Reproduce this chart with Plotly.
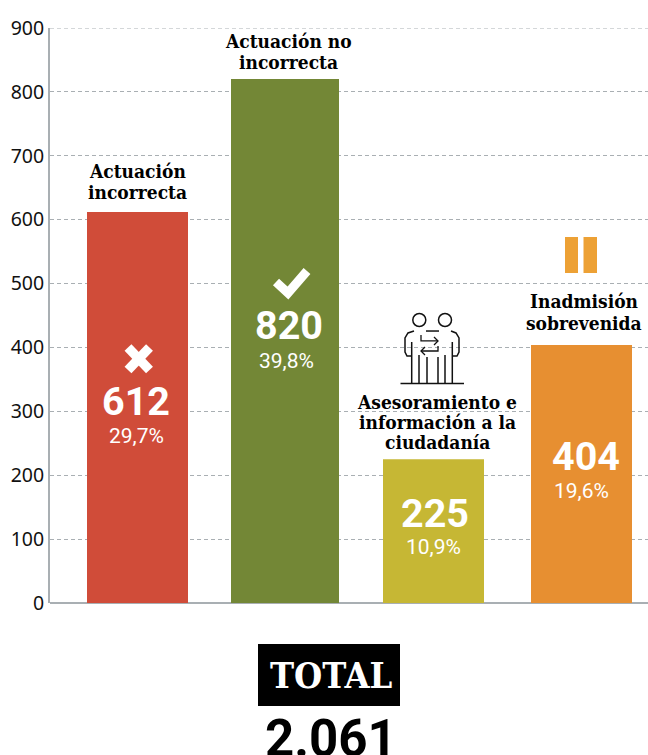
import plotly.graph_objects as go

# Data
categories = ["Actuación incorrecta", "Actuación no incorrecta", "Asesoramiento e información a la ciudadanía", "Inadmisión sobrevenida"]
values = [612, 820, 225, 404]
percents = ["29,7%", "39,8%", "10,9%", "19,6%"]
value_labels = ["612", "820", "225", "404"]
title_lines = [["Actuación", "incorrecta"], ["Actuación no", "incorrecta"],
               ["Asesoramiento e", "información a la", "ciudadanía"], ["Inadmisión", "sobrevenida"]]
colors = ["#D04C39", "#738736", "#C6B734", "#E78F31"]
tick_values = [0, 100, 200, 300, 400, 500, 600, 700, 800, 900]
total_label = "TOTAL"
total_value = "2.061"

# Layout helpers (pixel geometry of the bars on a pixel-scaled x axis)
W, H = 648, 755
L, T, B = 50, 28, 603
bar_lefts = [87, 231, 383, 531]
bar_widths = [101, 108, 101, 101]
centers = [a + w / 2 for a, w in zip(bar_lefts, bar_widths)]
SLAB = "DejaVu Serif Condensed"
SANS = "Roboto"
GRID = "#A9AFB3"


def py(y):
    return (B - y) / (B - T)


fig = go.Figure(go.Bar(x=centers, y=values, width=bar_widths, marker=dict(color=colors, line_width=0),
                       hovertext=categories, hoverinfo="text+y"))

anns = []


def text(x, y, s, size, color="#000000", family=SANS):
    anns.append(dict(x=x, y=py(y), xref="x", yref="paper", text=s, showarrow=False, xanchor="center",
                     yanchor="middle", align="center", font=dict(size=size, color=color, family=family)))


title_x = [137, 288.5, 437, 584]
title_y = [[171, 192.5], [41, 62], [402, 422, 442], [301, 323]]
value_x = [136, 288.5, 434.5, 586]
value_y = [401, 325, 513, 456]
pct_x = [136, 286.5, 433.5, 581.5]
pct_y = [436, 361, 547, 491]
for i in range(4):
    for line, ly in zip(title_lines[i], title_y[i]):
        text(title_x[i], ly, "<b>%s</b>" % line, 19, family=SLAB)
    text(value_x[i], value_y[i], "<b>%s</b>" % value_labels[i], 39.5, "#FFFFFF")
    text(pct_x[i], pct_y[i], percents[i], 21, "#FFFFFF")

text(331, 675, "<b>%s</b>" % total_label, 36, "#FFFFFF", SLAB)
text(330.5, 738, "<b>%s</b>" % total_value, 51, "#000000")

shapes = [dict(type="line", x0=L, x1=W, y0=900, y1=900, xref="x", yref="y", layer="below",
               line=dict(color=GRID, width=1, dash="4px,3px"))]


def pxpath(d_points, width, color, fill=None, close=False):
    d = "M" + " L".join("%.4f,%.4f" % (x, py(y)) for x, y in d_points) + (" Z" if close else "")
    shapes.append(dict(type="path", path=d, xref="x", yref="paper", line=dict(color=color, width=width),
                       fillcolor=fill, layer="above"))


def rect(x0, y0, x1, y1, color):
    shapes.append(dict(type="rect", x0=x0, x1=x1, y0=py(y1), y1=py(y0), xref="x", yref="paper",
                       fillcolor=color, line_width=0, layer="above"))


# total box
rect(258, 644, 400, 706, "#000000")
# cross icon
pxpath([(128, 347.5), (149.5, 370)], 9.5, "#FFFFFF")
pxpath([(149.5, 347.5), (128, 370)], 9.5, "#FFFFFF")
# check icon
pxpath([(276, 282), (288, 293), (307, 271)], 9, "#FFFFFF")
# pause icon
rect(565, 237, 578, 273, "#EDA135")
rect(583.5, 237, 597, 273, "#EDA135")
# people icon
ic = "#111111"
for cx_ in (419.3, 445):
    shapes.append(dict(type="circle", x0=cx_ - 6.5, x1=cx_ + 6.5, y0=py(326.5), y1=py(313.5), xref="x", yref="paper",
                       line=dict(color=ic, width=1.5), fillcolor="rgba(255,255,255,0)", layer="above"))
pxpath([(400.5, 383.5), (464, 383.5)], 1.6, ic)
pxpath([(426, 331), (439, 331)], 1.5, ic)
pxpath([(414, 331), (408, 333), (405, 338), (405, 352), (407, 356), (411.5, 356)], 1.5, ic)
pxpath([(451, 331), (456, 333), (459, 338), (459, 352), (457, 356), (452.5, 356)], 1.5, ic)
for x_, top in [(411.7, 342), (419, 355), (427, 357), (438, 357), (445, 355), (452.3, 342)]:
    pxpath([(x_, top), (x_, 383.5)], 1.5, ic)
pxpath([(421, 335), (421, 341), (438, 341)], 1.3, ic)
pxpath([(434, 337), (438, 341), (434, 345)], 1.3, ic)
pxpath([(438, 346), (438, 351), (421, 351)], 1.3, ic)
pxpath([(425, 347), (421, 351), (425, 355)], 1.3, ic)

fig.update_layout(
    width=W, height=H, margin=dict(l=L, r=0, t=T, b=H - B), plot_bgcolor="#FFFFFF", paper_bgcolor="#FFFFFF",
    showlegend=False, annotations=anns, shapes=shapes,
    xaxis=dict(range=[L, W], visible=False, fixedrange=True),
    yaxis=dict(range=[0, 900], tickvals=tick_values, ticks="", showgrid=True, gridcolor=GRID, griddash="4px,3px",
               gridwidth=1, showline=True, linecolor=GRID, linewidth=2, zeroline=True, zerolinecolor=GRID,
               zerolinewidth=2, tickfont=dict(family="Noto Sans", size=19.5, color="#111111"), ticklabelstandoff=0,
               fixedrange=True),
)
fig.write_html("out.html", config=dict(displayModeBar=False), post_script="document.body.style.margin='0';")
